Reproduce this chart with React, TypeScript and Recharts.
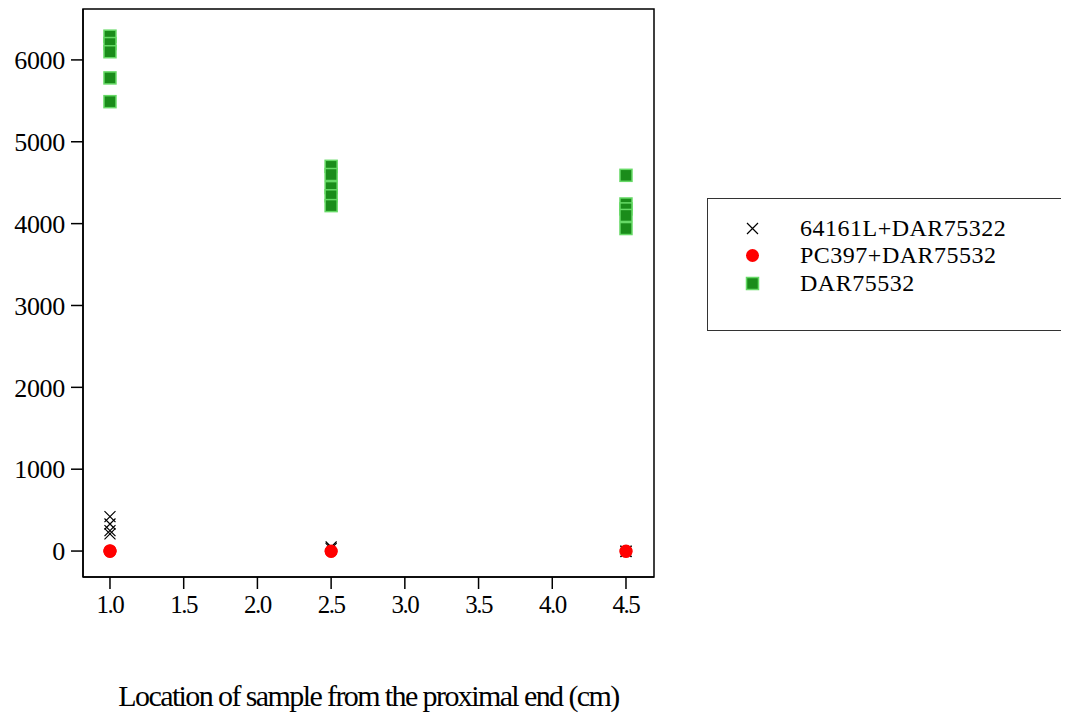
import React from 'react';
import { ScatterChart, Scatter, XAxis, YAxis, ReferenceArea } from 'recharts';

const LOCATIONS = [1.0, 2.5, 4.5];
const X_TICKS = [1.0, 1.5, 2.0, 2.5, 3.0, 3.5, 4.0, 4.5];
const Y_TICKS = [0, 1000, 2000, 3000, 4000, 5000, 6000];
const X_DOMAIN = [0.817, 4.69];
const Y_DOMAIN = [-317, 6622];

// one inner list per location
const COMBO_64161L = [[420, 330, 250, 210], [50, 30], [0, -5]];
const COMBO_PC397 = [[0, -5, 5], [0, -5], [0, -5]];
const DAR75532 = [
  [6290, 6200, 6100, 5780, 5490],
  [4700, 4600, 4440, 4340, 4220],
  [4590, 4240, 4180, 4100, 3940],
];

const toPoints = (vals: number[][]) =>
  vals.flatMap((list, i) => list.map((y) => ({ x: LOCATIONS[i], y })));

const FONT = '"Liberation Serif", "Times New Roman", serif';

const CrossShape = (props: any) => {
  const { cx, cy } = props;
  const s = 5.5;
  return (
    <path
      d={`M${cx - s},${cy - s}L${cx + s},${cy + s}M${cx - s},${cy + s}L${cx + s},${cy - s}`}
      stroke="#000"
      strokeWidth={1.2}
      fill="none"
    />
  );
};

const DotShape = (props: any) => {
  const { cx, cy } = props;
  return <circle cx={cx} cy={cy} r={6.5} fill="#ff0000" />;
};

const SquareShape = (props: any) => {
  const { cx, cy } = props;
  return (
    <rect x={cx - 6} y={cy - 6} width={12} height={12} fill="#1a8c1a" stroke="#66d966" strokeWidth={1.5} />
  );
};

const LEGEND_ROWS = [
  { name: '64161L+DAR75322', icon: <path d="M5,5L16,16M5,16L16,5" stroke="#000" strokeWidth={1.2} /> },
  { name: 'PC397+DAR75532', icon: <circle cx={10.5} cy={10.5} r={6.5} fill="#ff0000" /> },
  { name: 'DAR75532', icon: <rect x={4.5} y={4.5} width={12} height={12} fill="#1a8c1a" stroke="#66d966" strokeWidth={1.5} /> },
];

const ChartLegend = () => (
  <div
    style={{
      position: 'absolute',
      left: 699,
      top: 190,
      width: 355,
      height: 131,
      border: '1px solid #333',
      background: '#fff',
      fontFamily: FONT,
    }}
  >
    {LEGEND_ROWS.map((r, i) => (
      <div
        key={r.name}
        style={{ position: 'absolute', left: 0, top: [15, 42, 70][i], height: 28, display: 'flex', alignItems: 'center' }}
      >
        <svg width={21} height={21} style={{ marginLeft: 34, marginRight: 37 }}>
          {r.icon}
        </svg>
        <span style={{ fontSize: 24, letterSpacing: 0.5, color: '#000', lineHeight: '28px', whiteSpace: 'nowrap' }}>
          {r.name}
        </span>
      </div>
    ))}
  </div>
);

const yTickStyle = { fontFamily: FONT, fontSize: 26, fill: '#000', letterSpacing: -0.3 };
const xTickStyle = { fontFamily: FONT, fontSize: 25, fill: '#000', letterSpacing: -1.5 };

export default function App() {
  return (
    <div style={{ position: 'relative', width: 1053, height: 707, background: '#fff' }}>
      <ScatterChart width={1053} height={707} margin={{ top: 1, right: 407, bottom: 0, left: 0 }}>
        <XAxis
          type="number"
          dataKey="x"
          domain={X_DOMAIN}
          allowDataOverflow
          ticks={X_TICKS}
          tickFormatter={(v: number) => v.toFixed(1)}
          tick={xTickStyle}
          tickSize={12}
          tickMargin={6}
          stroke="#000"
          strokeWidth={1.5}
          height={138}
          label={{
            value: 'Location of sample from the proximal end (cm)',
            position: 'insideBottom',
            offset: 9,
            style: { fontFamily: FONT, fontSize: 30, fill: '#000', letterSpacing: -1.6 },
          }}
        />
        <YAxis
          type="number"
          dataKey="y"
          domain={Y_DOMAIN}
          allowDataOverflow
          ticks={Y_TICKS}
          tick={yTickStyle}
          tickSize={12}
          tickMargin={6}
          stroke="#000"
          strokeWidth={1.5}
          width={75}
        />
        <ReferenceArea
          x1={X_DOMAIN[0]}
          x2={X_DOMAIN[1]}
          y1={Y_DOMAIN[0]}
          y2={Y_DOMAIN[1]}
          fill="none"
          stroke="#000"
          strokeWidth={1.5}
          ifOverflow="visible"
        />
        <Scatter
          name="64161L+DAR75322"
          data={toPoints(COMBO_64161L)}
          shape={CrossShape}
          isAnimationActive={false}
        />
        <Scatter
          name="PC397+DAR75532"
          data={toPoints(COMBO_PC397)}
          shape={DotShape}
          isAnimationActive={false}
        />
        <Scatter
          name="DAR75532"
          data={toPoints(DAR75532)}
          shape={SquareShape}
          isAnimationActive={false}
        />
      </ScatterChart>
      <ChartLegend />
    </div>
  );
}
